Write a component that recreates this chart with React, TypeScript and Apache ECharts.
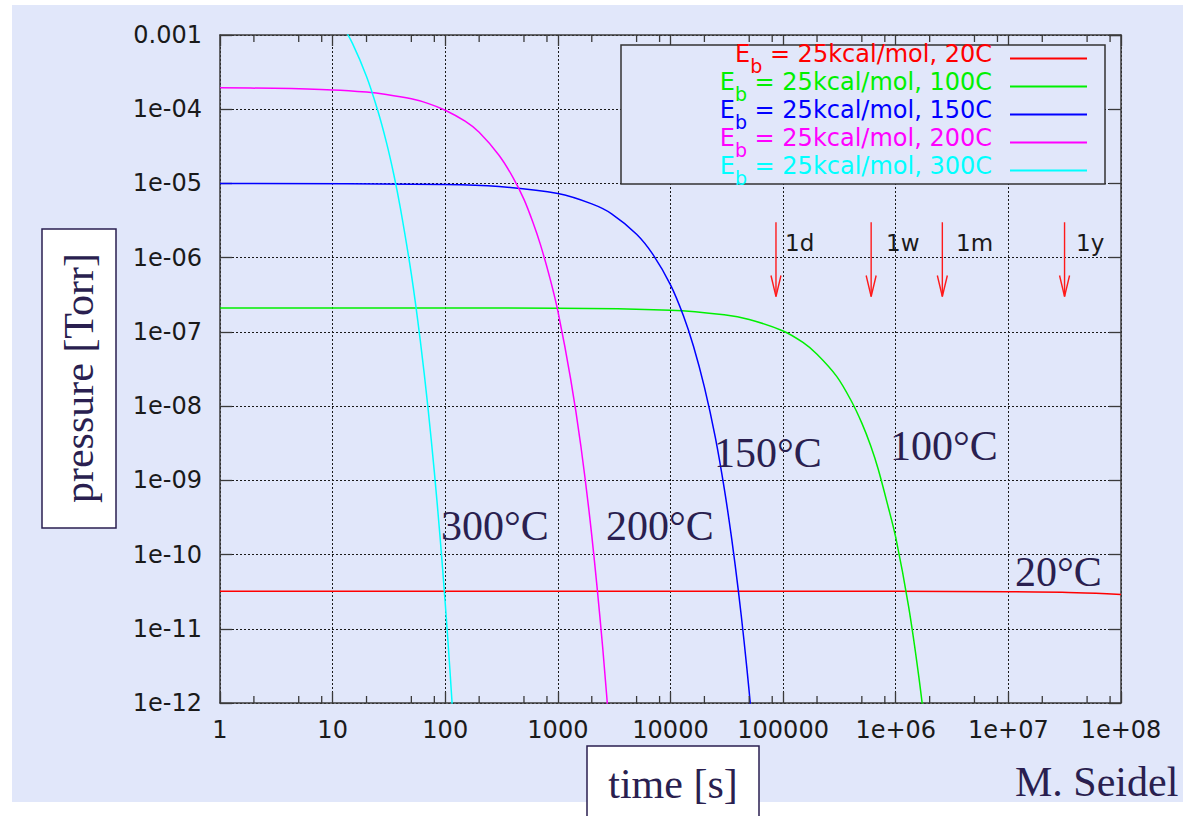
import React, { useEffect, useRef } from 'react';
import * as echarts from 'echarts';

// ---------- data ----------
const X_MIN = 1;
const X_MAX = 1e8;
const Y_MIN = 1e-12;
const Y_MAX = 1e-3;

const SERIES_NAMES = [
  'Eb = 25kcal/mol, 20C',
  'Eb = 25kcal/mol, 100C',
  'Eb = 25kcal/mol, 150C',
  'Eb = 25kcal/mol, 200C',
  'Eb = 25kcal/mol, 300C',
];
const SERIES_COLORS = ['#ff0000', '#00f000', '#0000ff', '#ff00ff', '#00ffff'];

// [time s, pressure Torr]
const CURVE_20C: [number, number][] = [
  [1, 3.2e-11], [1e5, 3.2e-11], [1e6, 3.2e-11], [1e7, 3.16e-11], [3e7, 3.1e-11], [6e7, 3.0e-11], [1e8, 2.9e-11],
];
const CURVE_100C: [number, number][] = [
  [1, 2.1e-7], [1000, 2.09e-7], [10000, 1.96e-7], [30000, 1.7e-7], [50000, 1.47e-7], [100000, 1.03e-7],
  [150000, 7.2e-8], [200000, 5.0e-8], [300000, 2.5e-8], [400000, 1.2e-8], [500000, 5.9e-9], [600000, 2.9e-9],
  [700000, 1.4e-9], [850000, 4.6e-10], [1000000, 1.7e-10], [1300000, 2.0e-11], [1600000, 2.3e-12], [1900000, 2.7e-13],
];
const CURVE_150C: [number, number][] = [
  [1, 1e-5], [100, 9.7e-6], [300, 9.1e-6], [1000, 7.3e-6], [2000, 5.3e-6], [3000, 3.9e-6], [5000, 2.07e-6],
  [7000, 1.1e-6], [10000, 4.3e-7], [13000, 1.66e-7], [16000, 6.4e-8], [20000, 1.8e-8], [25000, 3.8e-9],
  [30000, 7.8e-10], [35000, 1.6e-10], [40000, 3.3e-11], [45000, 6.8e-12], [50000, 1.4e-12], [55000, 2.9e-13],
];
const CURVE_200C: [number, number][] = [
  [1, 1.94e-4], [3, 1.91e-4], [10, 1.82e-4], [20, 1.7e-4], [30, 1.58e-4], [50, 1.38e-4], [70, 1.2e-4],
  [100, 9.7e-5], [150, 6.9e-5], [200, 4.9e-5], [300, 2.4e-5], [400, 1.2e-5], [500, 6.1e-6], [600, 3.0e-6],
  [700, 1.5e-6], [850, 5.3e-7], [1000, 1.9e-7], [1300, 2.3e-8], [1600, 2.9e-9], [2000, 1.8e-10],
  [2500, 5.6e-12], [3000, 1.8e-13],
];
const CURVE_300C: [number, number][] = [
  [10, 2.13e-3], [12, 1.42e-3], [15, 7.7e-4], [20, 2.76e-4], [25, 9.9e-5], [30, 3.6e-5], [35, 1.3e-5],
  [40, 4.6e-6], [50, 6.0e-7], [60, 7.7e-8], [70, 1.0e-8], [80, 1.3e-9], [90, 1.7e-10], [100, 2.2e-11],
  [110, 2.8e-12], [120, 3.6e-13],
];
const CURVES = [CURVE_20C, CURVE_100C, CURVE_150C, CURVE_200C, CURVE_300C];

const MINOR_X_TICKS = [
  2, 5, 8, 20, 50, 80, 200, 500, 800, 2e3, 5e3, 8e3, 2e4, 5e4, 8e4,
  2e5, 5e5, 8e5, 2e6, 5e6, 8e6, 2e7, 5e7, 8e7,
];

const ARROW_TIMES = [86400, 604800, 2592000, 31536000];
const ARROW_LABELS = ['1d', '1w', '1m', '1y'];
const ARROW_TOP = 3e-6;
const ARROW_BOTTOM = 3e-7;

const CURVE_LABELS = ['300°C', '200°C', '150°C', '100°C', '20°C'];

// ---------- styles ----------
const BG = '#e1e7fa';
const NAVY = '#2a1f50';
const AXIS = '#3a3a3a';
const SANS = '"DejaVu Sans", Verdana, sans-serif';
const SERIF = '"Liberation Serif", "Times New Roman", serif';

const CURVE_LABEL_POS: [number, number][] = [
  [441, 526], [606, 526], [714, 453], [890, 446], [1015, 572],
];
const ARROW_LABEL_POS: [number, number][] = [
  [785, 243], [886, 243], [956, 243], [1076, 243],
];

function yLabel(v: number): string {
  const e = Math.round(Math.log10(v));
  if (e === -3) return '0.001';
  const a = Math.abs(e);
  return '1e' + (e < 0 ? '-' : '+') + (a < 10 ? '0' + a : String(a));
}
function xLabel(v: number): string {
  const e = Math.round(Math.log10(v));
  if (e <= 5) return String(Math.round(Math.pow(10, e)));
  return '1e+' + (e < 10 ? '0' + e : String(e));
}

function buildOption(): any {
  const tickLabel = { fontFamily: SANS, fontSize: 24, color: '#1a1a1a' };
  const splitLine = { show: true, lineStyle: { color: '#1a1a1a', type: [2, 2], width: 1 } };

  const lineSeries = SERIES_NAMES.map((name, i) => ({
    type: 'line',
    name,
    data: CURVES[i],
    xAxisIndex: 0,
    yAxisIndex: 0,
    showSymbol: false,
    symbol: 'none',
    smooth: 0.3,
    clip: true,
    lineStyle: { color: SERIES_COLORS[i], width: 1.5 },
    itemStyle: { color: SERIES_COLORS[i] },
    emphasis: { disabled: true },
    z: 2,
  }));

  const minorTickSeries = {
    type: 'custom',
    name: 'minor',
    xAxisIndex: 0,
    yAxisIndex: 0,
    data: MINOR_X_TICKS.map((t) => [t, Y_MIN]),
    silent: true,
    z: 5,
    renderItem: (_p: any, api: any) => {
      const v = api.value(0);
      const b = api.coord([v, Y_MIN]);
      const t = api.coord([v, Y_MAX]);
      const st = { stroke: AXIS, lineWidth: 1.3 };
      return {
        type: 'group',
        children: [
          { type: 'line', shape: { x1: b[0], y1: b[1], x2: b[0], y2: b[1] - 7 }, style: st },
          { type: 'line', shape: { x1: t[0], y1: t[1], x2: t[0], y2: t[1] + 7 }, style: st },
        ],
      };
    },
  };

  const arrowSeries = {
    type: 'custom',
    name: 'arrows',
    xAxisIndex: 0,
    yAxisIndex: 0,
    data: ARROW_TIMES.map((t) => [t, ARROW_TOP, ARROW_BOTTOM]),
    silent: true,
    z: 4,
    renderItem: (_p: any, api: any) => {
      const t = api.value(0);
      const p1 = api.coord([t, api.value(1)]);
      const p2 = api.coord([t, api.value(2)]);
      const st = { stroke: '#ff1a1a', lineWidth: 1.4, fill: 'none' };
      return {
        type: 'group',
        children: [
          { type: 'line', shape: { x1: p1[0], y1: p1[1], x2: p2[0], y2: p2[1] }, style: st },
          {
            type: 'polyline',
            shape: { points: [[p2[0] - 5, p2[1] - 21], [p2[0], p2[1]], [p2[0] + 5, p2[1] - 21]] },
            style: st,
          },
        ],
      };
    },
  };

  const richFor = (color: string) => ({
    E: { color, fontFamily: SANS, fontSize: 24, lineHeight: 33, verticalAlign: 'top' },
    b: { color, fontFamily: SANS, fontSize: 19, lineHeight: 19, verticalAlign: 'bottom' },
    t: { color, fontFamily: SANS, fontSize: 24, lineHeight: 33, verticalAlign: 'top' },
  });

  const graphics: any[] = [
    {
      type: 'rect',
      z: 3,
      shape: { x: 621, y: 45, width: 484, height: 139 },
      style: { fill: BG, stroke: '#333', lineWidth: 1.5 },
    },
    {
      type: 'rect',
      shape: { x: 42, y: 229, width: 74, height: 299 },
      style: { fill: '#ffffff', stroke: NAVY, lineWidth: 1.5 },
    },
    {
      type: 'text',
      x: 79,
      y: 378,
      rotation: Math.PI / 2,
      style: { text: 'pressure [Torr]', font: `42px ${SERIF}`, fill: NAVY, align: 'center', verticalAlign: 'middle' },
    },
    {
      type: 'rect',
      shape: { x: 587, y: 746, width: 172, height: 80 },
      style: { fill: '#ffffff', stroke: NAVY, lineWidth: 1.5 },
    },
    {
      type: 'text',
      x: 673,
      y: 784,
      style: { text: 'time [s]', font: `42px ${SERIF}`, fill: NAVY, align: 'center', verticalAlign: 'middle' },
    },
    {
      type: 'text',
      x: 1015,
      y: 782,
      style: { text: 'M. Seidel', font: `42px ${SERIF}`, fill: NAVY, align: 'left', verticalAlign: 'middle' },
    },
  ];
  CURVE_LABELS.forEach((txt, i) => {
    graphics.push({
      type: 'text',
      z: 6,
      x: CURVE_LABEL_POS[i][0],
      y: CURVE_LABEL_POS[i][1],
      style: { text: txt, font: `42px ${SERIF}`, fill: NAVY, align: 'left', verticalAlign: 'middle' },
    });
  });
  ARROW_LABELS.forEach((txt, i) => {
    graphics.push({
      type: 'text',
      z: 6,
      x: ARROW_LABEL_POS[i][0],
      y: ARROW_LABEL_POS[i][1],
      style: { text: txt, font: `23px ${SANS}`, fill: '#1a1a1a', align: 'left', verticalAlign: 'middle' },
    });
  });

  return {
    animation: false,
    backgroundColor: 'transparent',
    tooltip: { show: false },
    grid: { left: 220, top: 35, width: 901, height: 668, containLabel: false },
    xAxis: [
      {
        type: 'log',
        logBase: 10,
        min: X_MIN,
        max: X_MAX,
        position: 'bottom',
        axisLine: { show: true, lineStyle: { color: AXIS, width: 1.5 } },
        axisTick: { show: true, inside: true, length: 11, lineStyle: { color: AXIS, width: 1.3 } },
        axisLabel: { ...tickLabel, margin: 15, formatter: xLabel },
        splitLine,
        minorTick: { show: false },
      },
      {
        type: 'log',
        logBase: 10,
        min: X_MIN,
        max: X_MAX,
        position: 'top',
        axisLine: { show: true, lineStyle: { color: AXIS, width: 1.5 } },
        axisTick: { show: true, inside: true, length: 11, lineStyle: { color: AXIS, width: 1.3 } },
        axisLabel: { show: false },
        splitLine: { show: false },
      },
    ],
    yAxis: [
      {
        type: 'log',
        logBase: 10,
        min: Y_MIN,
        max: Y_MAX,
        position: 'left',
        axisLine: { show: true, lineStyle: { color: AXIS, width: 1.5 } },
        axisTick: { show: true, inside: true, length: 12, lineStyle: { color: AXIS, width: 1.3 } },
        axisLabel: { ...tickLabel, margin: 18, formatter: yLabel },
        splitLine,
      },
      {
        type: 'log',
        logBase: 10,
        min: Y_MIN,
        max: Y_MAX,
        position: 'right',
        axisLine: { show: true, lineStyle: { color: AXIS, width: 1.5 } },
        axisTick: { show: true, inside: true, length: 12, lineStyle: { color: AXIS, width: 1.3 } },
        axisLabel: { show: false },
        splitLine: { show: false },
      },
    ],
    legend: {
      show: true,
      orient: 'vertical',
      left: 621,
      top: 42,
      padding: 0,
      itemGap: -5,
      itemWidth: 77,
      itemHeight: 2,
      icon: 'rect',
      align: 'right',
      selectedMode: false,
      backgroundColor: 'transparent',
      borderWidth: 0,
      z: 5,
      textStyle: { fontFamily: SANS, fontSize: 24, lineHeight: 33, width: 371, padding: [0, 13, 0, 0] },
      formatter: (name: string) => {
        const rest = name.replace(/^Eb/, '');
        return `{E|E}{b|b}{t|${rest}}`;
      },
      data: SERIES_NAMES.map((n, i) => ({
        name: n,
        textStyle: { color: SERIES_COLORS[i], rich: richFor(SERIES_COLORS[i]) },
      })),
    },
    graphic: { elements: graphics },
    series: [...lineSeries, minorTickSeries, arrowSeries],
  };
}

export default function App() {
  const ref = useRef<HTMLDivElement>(null);
  useEffect(() => {
    document.body.style.margin = '0';
    if (!ref.current) return;
    const chart = echarts.init(ref.current, null, { renderer: 'svg' });
    chart.setOption(buildOption());
    return () => chart.dispose();
  }, []);
  return (
    <div style={{ position: 'relative', width: 1183, height: 816, background: '#ffffff', overflow: 'hidden' }}>
      <div style={{ position: 'absolute', left: 12, top: 5, width: 1171, height: 797, background: BG }} />
      <div ref={ref} style={{ position: 'absolute', left: 0, top: 0, width: 1183, height: 816 }} />
    </div>
  );
}
